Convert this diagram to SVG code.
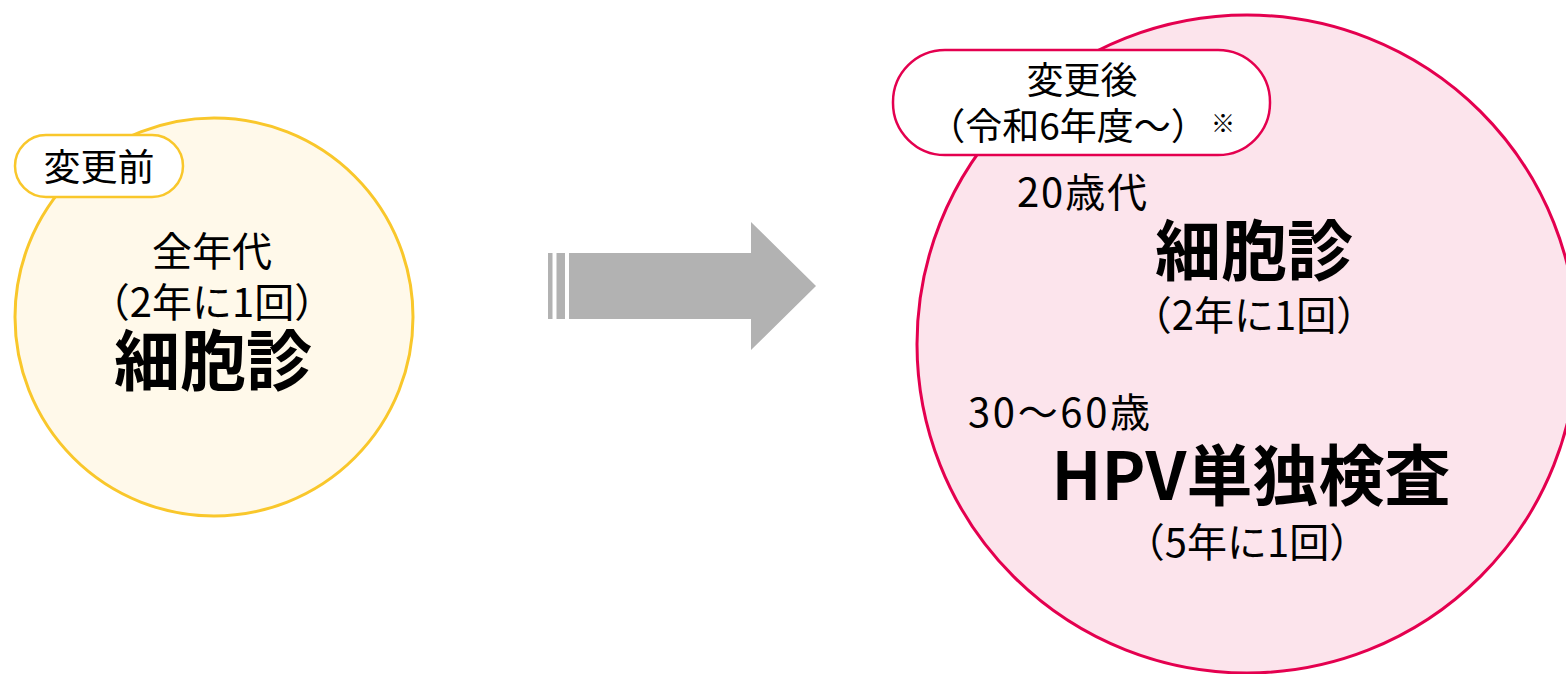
<svg xmlns="http://www.w3.org/2000/svg" width="1566" height="674" viewBox="0 0 1566 674">
<style>
text{font-family:"Noto Sans CJK JP","Noto Sans",sans-serif;fill:#000}
.m{font-size:40px}
.b{font-size:66px;font-weight:bold}
.lbl{font-size:37px}
.c{text-anchor:middle}
</style>
<rect width="1566" height="674" fill="#fff"/>
<g id="before">
<circle cx="214" cy="317" r="199" fill="#FFF9EA" stroke="#F9C72B" stroke-width="3"/>
<rect x="15" y="135" width="168" height="62" rx="31" fill="#fff" stroke="#F9C72B" stroke-width="2.5"/>
<text class="lbl c" x="99" y="181">変更前</text>
<text class="m c" x="212" y="266">全年代</text>
<text class="m c" x="212" y="317">（2年に1回）</text>
<text class="b c" x="213" y="385">細胞診</text>
</g>
<g id="arrow" fill="#B2B2B2">
<rect x="548" y="253" width="4.5" height="66"/>
<rect x="556.5" y="253" width="8.5" height="66"/>
<polygon points="569,253 751,253 751,222 816,286 751,350 751,319 569,319"/>
</g>
<g id="after">
<ellipse cx="1247" cy="344" rx="330" ry="329" fill="#FCE4EC" stroke="#E4004F" stroke-width="3"/>
<rect x="893" y="50" width="377" height="105" rx="52" fill="#fff" stroke="#E4004F" stroke-width="2.5"/>
<text class="lbl c" x="1082" y="94">変更後</text>
<text class="lbl c" x="1068" y="140">（令和6年度～）</text>
<text x="1211" y="132" style="font-size:24px">※</text>
<text class="m" x="1017" y="207" textLength="130" lengthAdjust="spacing">20歳代</text>
<text class="b c" x="1254" y="275">細胞診</text>
<text class="m c" x="1254" y="330">（2年に1回）</text>
<text class="m" x="968" y="427" textLength="182" lengthAdjust="spacing">30～60歳</text>
<text class="b c" x="1251" y="500">HPV単独検査</text>
<text class="m c" x="1247" y="557">（5年に1回）</text>
</g>
</svg>
